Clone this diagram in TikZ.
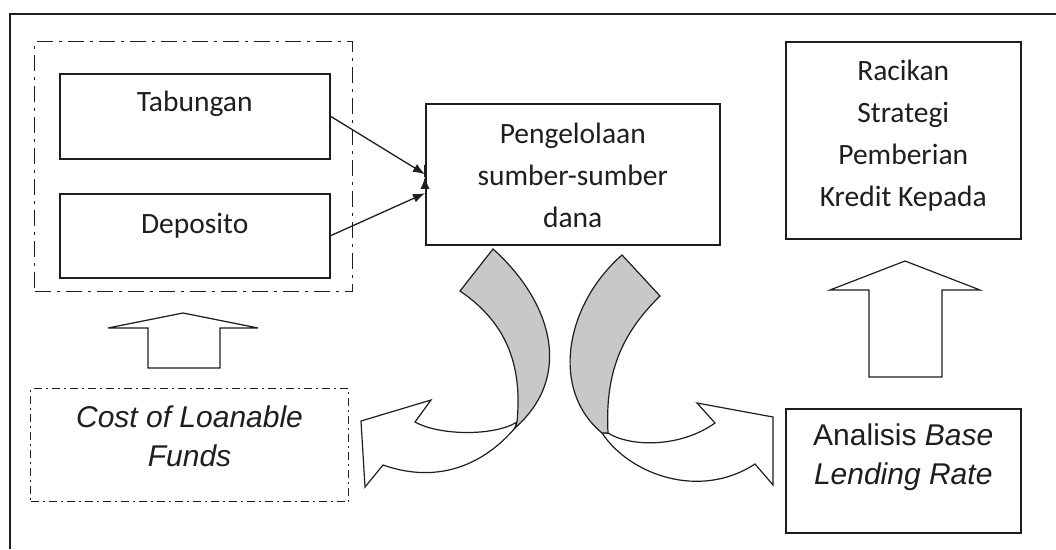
\documentclass[tikz,border=0pt]{standalone}
\usepackage{fontspec}
\setmainfont{Carlito}
\newfontfamily\arialf{Liberation Sans}
\usetikzlibrary{arrows.meta,calc}
\definecolor{inkc}{HTML}{1E1E1E}
\definecolor{grayf}{HTML}{C8C8C8}
\begin{document}
\begin{tikzpicture}[x=1pt,y=-1pt,
  box/.style={draw=inkc, line width=1.5pt, rectangle, inner sep=0pt, anchor=north west},
  dbox/.style={box, line width=1.2pt, dash pattern=on 16pt off 6pt on 3pt off 6pt},
  dbox2/.style={box, line width=1.1pt, dash pattern=on 8pt off 4pt on 2pt off 4pt},
  ctext/.style={text=inkc, align=center, inner sep=0pt, font=\fontsize{29.5}{42}\selectfont},
  atext/.style={text=inkc, align=center, inner sep=0pt, font=\arialf\fontsize{30}{39}\selectfont},
  conn/.style={draw=inkc, line width=1.3pt, -{Latex[length=12pt,width=9pt]}},
  blk/.style={draw=inkc, line width=1.2pt, fill=white, line join=miter},
  gblk/.style={draw=inkc, line width=1.2pt, fill=grayf, line join=miter}
]
\useasboundingbox (0,0) rectangle (1056,549);
% outer frame (top and left edges)
\draw[draw=inkc, line width=1.5pt] (1056,14) -- (10,14) -- (10,549);

% dashed group
\node[dbox, minimum width=318pt, minimum height=250pt] (grp) at (34,41) {};
\node[box, minimum width=270pt, minimum height=85pt] (tab) at (59,73) {};
\node[ctext] (tabt) at ($(tab.center)+(0,-12)$) {Tabungan};
\node[box, minimum width=270pt, minimum height=84pt] (dep) at (59,193) {};
\node[ctext] (dept) at ($(dep.center)+(0,-10)$) {Deposito};

% centre box
\node[box, minimum width=294pt, minimum height=141pt] (pen) at (425,103) {};
\node[ctext] (pent) at ($(pen.center)+(0,1)$) {Pengelolaan\\sumber-sumber\\dana};

% right top box
\node[box, minimum width=235pt, minimum height=197pt] (rac) at (785,41) {};
\node[ctext] (ract) at ($(rac.center)+(0,-5)$) {Racikan\\Strategi\\Pemberian\\Kredit Kepada};

% bottom boxes
\node[dbox2, minimum width=318pt, minimum height=113pt] (cost) at (30,388) {};
\node[atext] (costt) at ($(cost.center)+(0,-9)$) {\itshape Cost of Loanable\\\itshape Funds};
\node[box, minimum width=235pt, minimum height=124pt] (bal) at (785,408) {};
\node[atext] (balt) at ($(bal.center)+(0,-14)$) {Analisis \textit{Base}\\\textit{Lending Rate}};

% connectors
\draw[conn] (tab.east) -- (pen.west);
\draw[conn] (dep.east) -- ($(pen.west)+(0,19)$);
\draw[conn] ($(pen.west)+(0,2.5)$ -| pen.east) -- ($(pen.west)+(0,2.5)$ -| rac.west);

% up block arrows
\draw[blk] (148,368) -- (148,328) -- (108,328) -- (183,313) -- (258,328) -- (220,328) -- (220,368) -- cycle;
\draw[blk] (869,377) -- (869,290) -- (830,290) -- (905,261) -- (980,290) -- (942,290) -- (942,377) -- cycle;

% left curved arrow: white part
\draw[blk] (517,422) .. controls (495,436) and (440,436) .. (415,422)
  -- (431,400) -- (361,421) -- (365,487) -- (383,465)
  .. controls (440,485) and (485,463) .. (515,428) -- cycle;
% left curved arrow: gray part
\draw[gblk] (460,291) -- (493,249) .. controls (550,300) and (575,375) .. (515,428)
  -- (517,422) .. controls (522,370) and (510,325) .. (460,291) -- cycle;

% right curved arrow: white part
\draw[blk] (608,433) .. controls (630,447) and (680,448) .. (715,423)
  -- (697,403) -- (773,417) -- (773,485) -- (755,464)
  .. controls (700,500) and (630,475) .. (602,433) -- cycle;
% right curved arrow: gray part
\draw[gblk] (622,255) -- (660,296) .. controls (620,335) and (605,375) .. (608,433)
  -- (602,433) .. controls (550,390) and (565,305) .. (622,255) -- cycle;
\end{tikzpicture}
\end{document}
